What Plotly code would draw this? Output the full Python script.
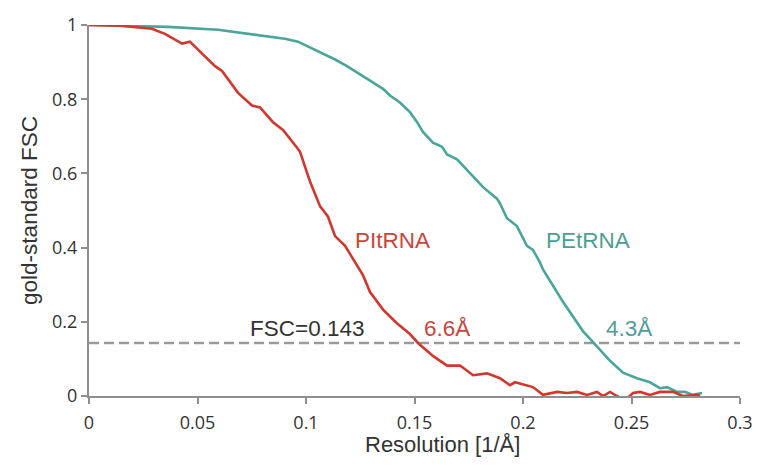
import plotly.graph_objects as go

# Gold-standard FSC curves (resolution in 1/Å)
pi_res = [0.0, 0.0143, 0.029, 0.035, 0.0429, 0.0465, 0.0521, 0.0581, 0.0613, 0.0687,
          0.0751, 0.0788, 0.0848, 0.0894, 0.0959, 0.0972, 0.1018, 0.1065, 0.1101, 0.1134,
          0.118, 0.1226, 0.1263, 0.1295, 0.1355, 0.1419, 0.1479, 0.1516, 0.1585, 0.165,
          0.171, 0.177, 0.1834, 0.1894, 0.194, 0.1963, 0.2018, 0.2046, 0.2092, 0.2157,
          0.2203, 0.2249, 0.2295, 0.2341, 0.2369, 0.2401, 0.2433, 0.247, 0.2507, 0.2539,
          0.2585, 0.2631, 0.2691, 0.2737, 0.2802, 0.2816]
pi_fsc = [1.0, 0.998, 0.99, 0.976, 0.95, 0.955, 0.923, 0.889, 0.876, 0.817,
          0.783, 0.778, 0.738, 0.717, 0.669, 0.659, 0.579, 0.511, 0.484, 0.431,
          0.405, 0.36, 0.325, 0.28, 0.233, 0.196, 0.167, 0.143, 0.108, 0.082,
          0.082, 0.056, 0.061, 0.048, 0.029, 0.037, 0.029, 0.024, 0.003, 0.011,
          0.008, 0.011, 0.003, 0.011, 0.0, 0.011, 0.0, -0.012, 0.008, 0.011,
          0.003, 0.011, 0.011, 0.0, 0.003, 0.0]

pe_res = [0.0, 0.0364, 0.0594, 0.0751, 0.0903, 0.0963, 0.1055, 0.1134, 0.1189, 0.1281,
          0.1355, 0.1387, 0.1433, 0.1479, 0.1512, 0.1539, 0.1585, 0.1627, 0.165, 0.1696,
          0.1802, 0.1816, 0.188, 0.1894, 0.1926, 0.1954, 0.1972, 0.2018, 0.2046, 0.2078,
          0.2092, 0.2184, 0.2276, 0.2326, 0.2401, 0.2461, 0.2525, 0.2585, 0.2631, 0.2664,
          0.271, 0.2747, 0.2783, 0.2825]
pe_fsc = [1.0, 0.995, 0.987, 0.974, 0.963, 0.955, 0.929, 0.907, 0.889, 0.854,
          0.828, 0.81, 0.791, 0.765, 0.738, 0.712, 0.683, 0.672, 0.651, 0.638,
          0.571, 0.563, 0.532, 0.519, 0.479, 0.466, 0.458, 0.405, 0.394, 0.36,
          0.341, 0.254, 0.175, 0.143, 0.095, 0.063, 0.048, 0.037, 0.021, 0.024,
          0.011, 0.011, 0.003, 0.008]

threshold = 0.143
x_ticks = [0, 0.05, 0.1, 0.15, 0.2, 0.25, 0.3]
x_tick_text = ["0", "0.05", "0.1", "0.15", "0.2", "0.25", "0.3"]
y_ticks = [0, 0.2, 0.4, 0.6, 0.8, 1.0]
y_tick_text = ["0", "0.2", "0.4", "0.6", "0.8", "1"]

RED = "#d2372d"
TEAL = "#4aa69a"
RED_TXT = "#c8463d"
TEAL_TXT = "#4d9f94"
AXIS = "#8f8f8f"
TXT = "#333333"

fig = go.Figure()

# FSC = 0.143 cut-off
fig.add_trace(go.Scatter(
    x=[0, 0.3], y=[threshold, threshold], mode="lines",
    line=dict(color="#9a9a9a", width=2.5, dash="10px,5px"),
    hoverinfo="skip", showlegend=False,
))

fig.add_trace(go.Scatter(
    x=pe_res, y=pe_fsc, mode="lines", name="PEtRNA",
    line=dict(color=TEAL, width=2.6), showlegend=False,
))
fig.add_trace(go.Scatter(
    x=pi_res, y=pi_fsc, mode="lines", name="PItRNA",
    line=dict(color=RED, width=2.6), showlegend=False,
))

ann_font = "Liberation Sans, Arial, sans-serif"
labels = [
    (0.1005, 0.1825, "FSC=0.143", TXT),
    (0.165, 0.1825, "6.6Å", RED_TXT),
    (0.2488, 0.1825, "4.3Å", TEAL_TXT),
    (0.140, 0.418, "PItRNA", RED_TXT),
    (0.230, 0.418, "PEtRNA", TEAL_TXT),
]
for x, y, t, c in labels:
    fig.add_annotation(x=x, y=y, text=t, showarrow=False,
                       font=dict(family=ann_font, size=22.5, color=c),
                       xanchor="center", yanchor="middle")

# x-axis title, set slightly right of the plot centre
fig.add_annotation(x=0.163, y=-0.092, xref="x", yref="paper",
                   text="Resolution [1/Å]", showarrow=False,
                   font=dict(family=ann_font, size=22, color=TXT),
                   xanchor="center", yanchor="top")

fig.update_layout(
    width=767, height=470,
    margin=dict(l=89, r=27, t=18, b=74),
    paper_bgcolor="white", plot_bgcolor="white",
    xaxis=dict(
        range=[0, 0.3], tickvals=x_ticks, ticktext=x_tick_text,
        showgrid=False, zeroline=False,
        showline=True, linecolor=AXIS, linewidth=2,
        ticks="outside", ticklen=6, tickwidth=2, tickcolor=AXIS,
        ticklabelstandoff=3,
        tickfont=dict(family="Open Sans, sans-serif", size=18, color=TXT),
    ),
    yaxis=dict(
        range=[0, 1], tickvals=y_ticks, ticktext=y_tick_text,
        showgrid=False, zeroline=False,
        showline=True, linecolor=AXIS, linewidth=2,
        ticks="outside", ticklen=6, tickwidth=2, tickcolor=AXIS,
        tickfont=dict(family="Open Sans, sans-serif", size=18, color=TXT),
        title=dict(text="gold-standard FSC", standoff=8,
                   font=dict(family=ann_font, size=22.5, color=TXT)),
    ),
)

fig.write_html("out.html")
